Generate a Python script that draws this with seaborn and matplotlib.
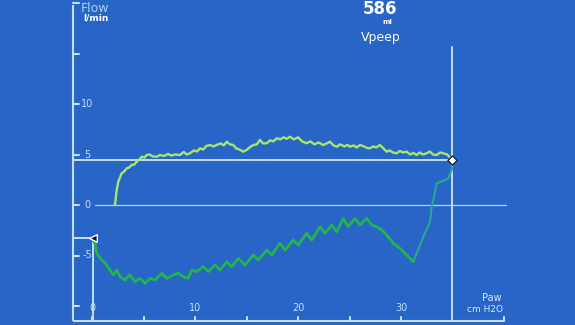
import matplotlib
matplotlib.use("Agg")
import matplotlib.pyplot as plt
import seaborn as sns
import pandas as pd
import numpy as np

# ---------------- data ----------------
insp_paw = [2.23, 2.40, 2.55, 2.88, 3.1, 3.37, 3.6, 3.85, 4.1, 4.34, 4.6, 4.83, 5.1, 5.31, 5.6, 5.9,
            6.28, 6.6, 7.0, 7.38, 7.7, 8.1, 8.54, 8.9, 9.2, 9.51, 9.9, 10.2, 10.49, 10.8, 11.1, 11.46,
            11.8, 12.1, 12.5, 12.8, 13.08, 13.4, 13.72, 14.0, 14.3, 14.69, 15.02, 15.3, 15.66, 16.0,
            16.31, 16.6, 16.96, 17.3, 17.6, 17.93, 18.3, 18.6, 18.9, 19.22, 19.6, 20.0, 20.4, 20.84,
            21.2, 21.6, 22.0, 22.43, 22.8, 23.1, 23.45, 23.76, 24.1, 24.5, 24.8, 25.05, 25.4, 25.7,
            26.02, 26.4, 26.7, 26.99, 27.3, 27.6, 27.96, 28.3, 28.61, 28.9, 29.2, 29.58, 29.9, 30.2,
            30.55, 30.9, 31.2, 31.52, 31.8, 32.1, 32.5, 32.8, 33.1, 33.47, 33.8, 34.1, 34.5, 34.92]
insp_flow = [0.0, 1.49, 2.30, 3.14, 3.3, 3.63, 3.7, 3.96, 4.0, 4.29, 4.5, 4.78, 4.7, 4.95, 5.0, 4.8,
             4.78, 4.95, 4.85, 5.05, 4.9, 5.0, 4.95, 5.25, 5.0, 5.12, 5.4, 5.3, 5.61, 5.5, 5.85, 5.94,
             5.8, 5.94, 6.1, 5.9, 6.27, 6.0, 5.94, 5.6, 5.5, 5.28, 5.45, 5.7, 5.94, 6.0,
             6.44, 6.1, 6.11, 6.4, 6.3, 6.6, 6.5, 6.7, 6.55, 6.76, 6.5, 6.7, 6.3, 6.11,
             6.3, 6.0, 6.2, 5.94, 6.1, 6.27, 5.9, 5.77, 6.0, 5.8, 5.95, 5.77, 5.9, 5.7,
             5.94, 5.8, 5.65, 5.61, 5.8, 5.7, 5.94, 5.6, 5.28, 5.4, 5.2, 5.12, 5.35, 5.2,
             5.28, 5.0, 5.15, 4.95, 5.2, 5.0, 5.12, 5.3, 5.0, 4.95, 5.2, 5.12, 5.0, 4.46]

exp_paw = [-0.03, 0.29, 0.46, 0.94, 1.26, 1.75, 2.07, 2.40, 2.72, 3.20, 3.69, 4.17, 4.66, 5.15, 5.63,
           6.12, 6.77, 7.25, 7.89, 8.38, 8.86, 9.35, 9.68, 10.17, 10.81, 11.29, 11.94, 12.43, 13.08,
           13.56, 14.2, 14.85, 15.66, 16.15, 16.96, 17.45, 18.25, 18.74, 19.54, 20.03, 20.84, 21.33,
           22.14, 22.62, 23.27, 23.76, 24.4, 24.88, 25.53, 26.02, 26.67, 27.16, 27.64, 28.13, 28.61,
           29.25, 29.9, 31.19]
exp_flow = [-3.30, -3.79, -4.78, -5.45, -5.74, -6.44, -6.93, -6.44, -7.10, -7.43, -6.93, -7.59, -7.26,
            -7.75, -7.26, -7.43, -6.76, -7.26, -6.93, -6.76, -7.10, -7.26, -6.44, -6.60, -6.11, -6.60,
            -5.94, -6.44, -5.61, -6.11, -5.28, -5.94, -4.95, -5.45, -4.46, -4.95, -3.79, -4.46, -3.47,
            -3.96, -2.80, -3.47, -2.15, -2.80, -1.98, -2.64, -1.32, -2.15, -1.32, -1.98, -1.32, -1.98,
            -2.15, -2.48, -2.97, -3.79, -4.29, -5.61]

ret_paw = [31.19, 32.17, 32.82, 32.98, 33.14, 33.47, 33.95, 34.59, 34.92, 35.08]
ret_flow = [-5.61, -3.14, -1.65, -0.17, 0.50, 2.15, 2.31, 2.64, 3.47, 4.29]

cursor_paw, cursor_flow = 34.95, 4.46
start_paw, start_flow = 0.1, -3.30

ytick_vals = [20, 15, 10, 5, 0, -5, -10]
ylabel_vals = [10, 5, 0, -5]
ylabel_txt = ["10", "5", "0", "-5"]
xtick_vals = [0, 5, 10, 15, 20, 25, 30, 40]
xlabel_vals = [0, 10, 20, 30]
xlabel_txt = ["0", "10", "20", "30"]

vol_value = "586"
vol_unit = "ml"
vol_name = "Vpeep"

# ---------------- figure ----------------
BG = "#2865c6"
AX = "#c4def5"
sns.set_theme(style="white")
fig = plt.figure(figsize=(5.75, 3.25), dpi=100, facecolor=BG)
ax = fig.add_axes([0, 0, 1, 1])
ax.set_facecolor(BG)
for s in ax.spines.values():
    s.set_visible(False)
ax.set_xticks([]); ax.set_yticks([])

# pixel mapping: x = 92 + 10.3*P ; y = 205 - 10.1*F
XL = (-92 / 10.3, (575 - 92) / 10.3)
YL = ((205 - 325) / 10.1, 205 / 10.1)
ax.set_xlim(*XL)
ax.set_ylim(*YL)

x_left = -1.85
y_bot = -11.49
x_right = 40.0
y_top = 19.8

lw_ax = 1.5
# axes frame
ax.plot([x_left, x_left], [y_bot, y_top], color=AX, lw=lw_ax, solid_capstyle="butt")
ax.plot([x_left, x_right], [y_bot, y_bot], color=AX, lw=lw_ax, solid_capstyle="butt")
for v in ytick_vals:
    ax.plot([x_left, x_left + 0.6], [v, v], color=AX, lw=lw_ax)
for v in xtick_vals:
    ax.plot([v, v], [y_bot, y_bot + 0.45], color=AX, lw=lw_ax)

# zero line and cursor lines
ax.plot([0.3, 40.2], [0, 0], color=AX, lw=0.9, alpha=0.9)
ax.plot([x_left, cursor_paw], [cursor_flow, cursor_flow], color=AX, lw=1.4)
ax.plot([cursor_paw, cursor_paw], [y_bot, 15.6], color=AX, lw=1.4)
ax.plot([x_left, start_paw], [start_flow, start_flow], color=AX, lw=1.4)
ax.plot([start_paw, start_paw], [y_bot, start_flow], color=AX, lw=1.4)

# labels
for v, t in zip(ylabel_vals, ylabel_txt):
    ax.text(-0.45, v, t, color=AX, fontsize=7, ha="center", va="center", zorder=1)
for v, t in zip(xlabel_vals, xlabel_txt):
    ax.text(v, -10.2, t, color=AX, fontsize=7, ha="center", va="center")

# curves
insp = pd.DataFrame({"paw": insp_paw, "flow": insp_flow})
exp_ = pd.DataFrame({"paw": exp_paw, "flow": exp_flow})
ret = pd.DataFrame({"paw": ret_paw, "flow": ret_flow})
sns.lineplot(data=insp, x="paw", y="flow", sort=False, ax=ax, color="#a9e56c", lw=1.7, zorder=4)
sns.lineplot(data=exp_, x="paw", y="flow", sort=False, ax=ax, color="#22b44e", lw=2.0, zorder=4)
sns.lineplot(data=ret, x="paw", y="flow", sort=False, ax=ax, color="#2aa890", lw=1.5, zorder=4)
ax.set_xlabel(""); ax.set_ylabel("")
ax.set_xlim(*XL)
ax.set_ylim(*YL)

# markers
ax.scatter([cursor_paw], [cursor_flow], marker="D", s=22, color="white", edgecolor="#222222", lw=1.0, zorder=6)
ax.scatter([start_paw], [start_flow], marker="<", s=30, color="#111111", edgecolor="white", lw=1.0, zorder=6)

# titles
def ft(x, y, s, **kw):
    fig.text(x / 575, 1 - y / 325, s, **kw)

ft(81, 8, "Flow", color="#a9d0f2", fontsize=9, ha="left", va="center")
ft(83, 18, "l/min", color="white", fontsize=6.5, fontweight="bold", ha="left", va="center")
ft(380, 9, vol_value, color="white", fontsize=12, fontweight="bold", ha="center", va="center")
ft(387, 22, vol_unit, color="white", fontsize=5, fontweight="bold", ha="center", va="center")
ft(381, 37, vol_name, color="white", fontsize=9, ha="center", va="center")
ft(502, 298, "Paw", color="#d8ebfa", fontsize=7, ha="right", va="center")
ft(503, 310, "cm H2O", color="#d8ebfa", fontsize=6.5, ha="right", va="center")

fig.savefig("out.png", dpi=100, facecolor=BG)
